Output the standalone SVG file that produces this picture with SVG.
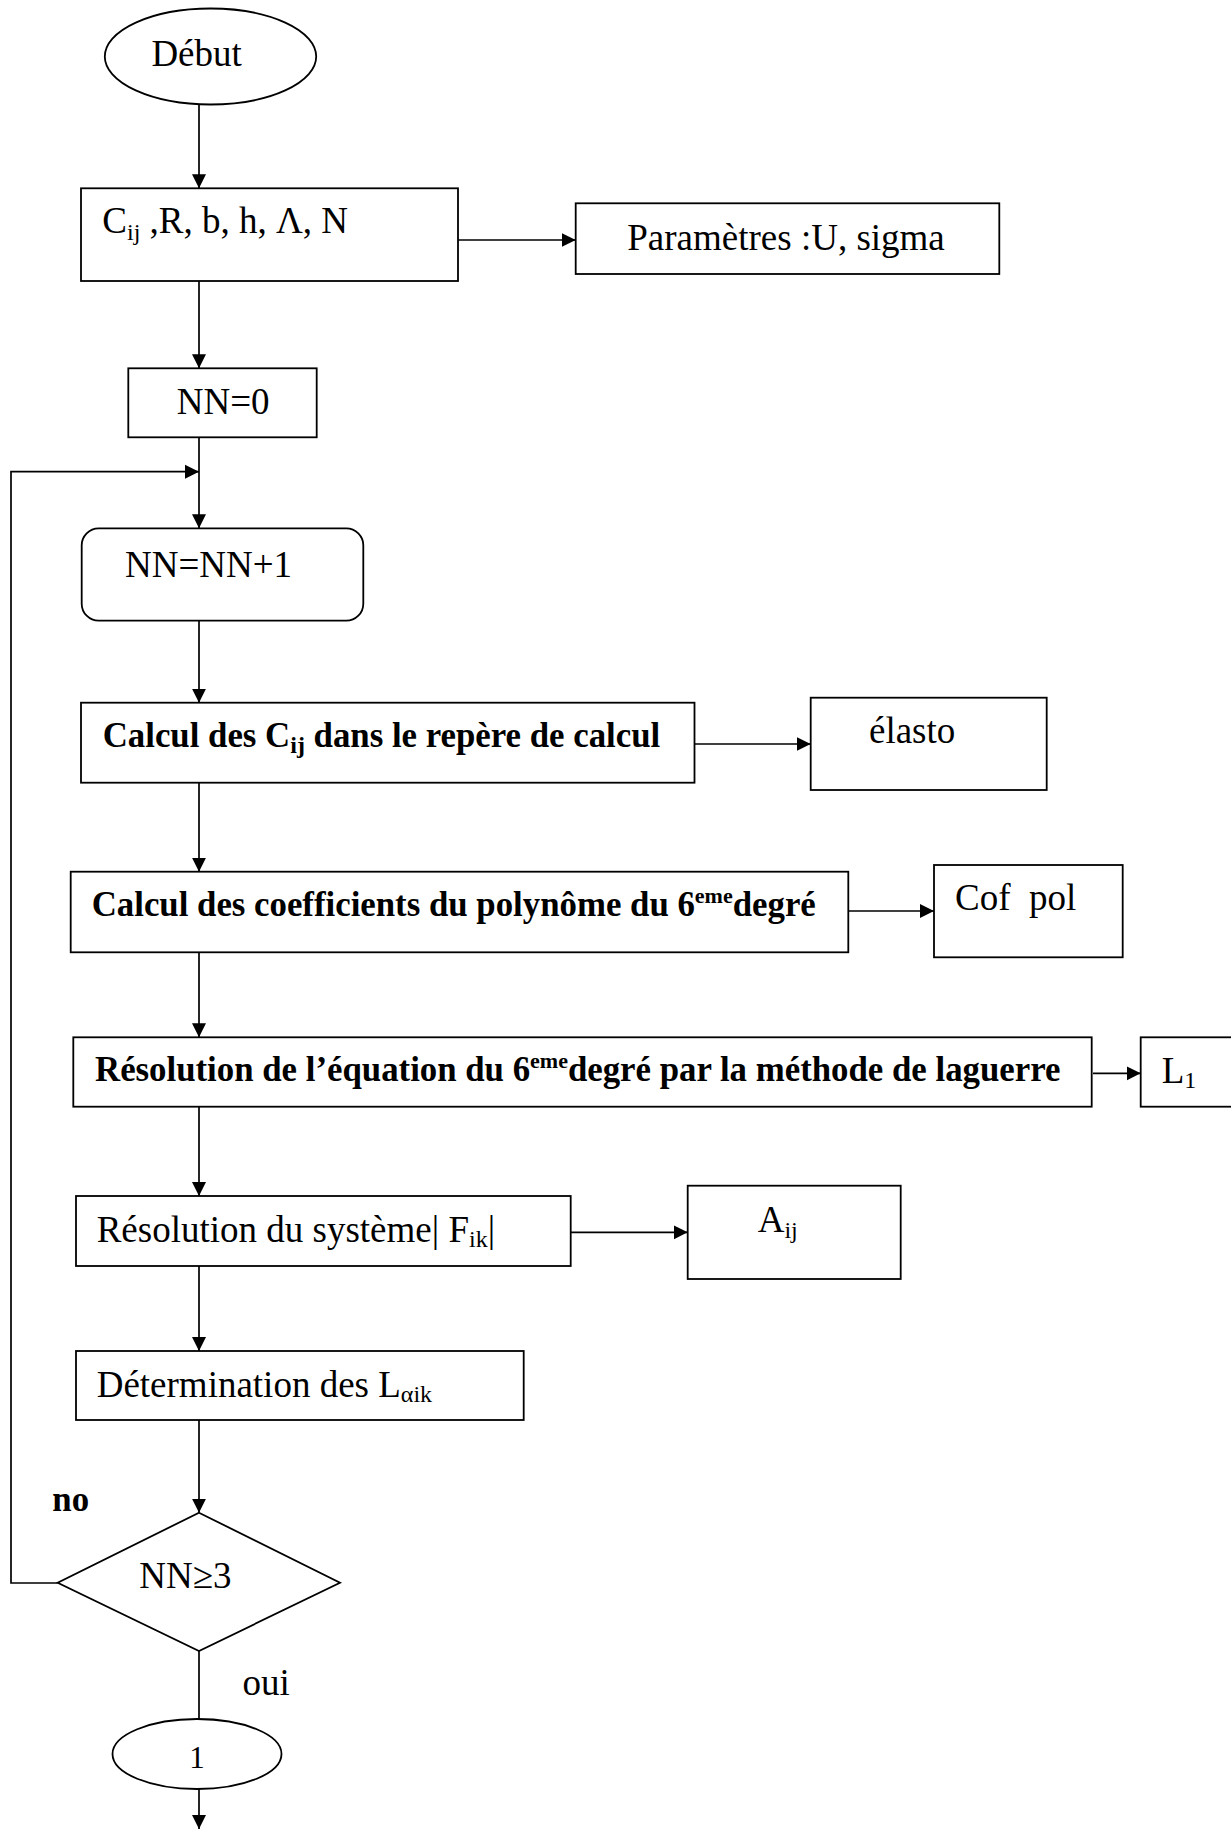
<svg xmlns="http://www.w3.org/2000/svg" width="1231" height="1829" viewBox="0 0 1231 1829">
<style>
  .box { fill: #fff; stroke: #000; stroke-width: 1.8; }
  .ln { fill: none; stroke: #000; stroke-width: 1.7; }
  .t { font-family: "Liberation Serif", "Times New Roman", serif; font-size: 37px; fill: #000; }
  .b { font-family: "Liberation Serif", "Times New Roman", serif; font-size: 34.8px; font-weight: bold; fill: #000; }
  .sub { font-size: 24px; }
  .sup { font-size: 22px; }
</style>
<defs>
  <marker id="arr" markerUnits="userSpaceOnUse" markerWidth="16" markerHeight="16" refX="14" refY="7.5" orient="auto">
    <path d="M0,0.5 L14,7.5 L0,14.5 z" fill="#000"/>
  </marker>
</defs>
<rect width="1231" height="1829" fill="#fff"/>

<g id="connectors">
  <line class="ln" x1="199" y1="104" x2="199" y2="188.3" marker-end="url(#arr)"/>
  <line class="ln" x1="458" y1="240" x2="575.7" y2="240" marker-end="url(#arr)"/>
  <line class="ln" x1="199" y1="281" x2="199" y2="368.3" marker-end="url(#arr)"/>
  <line class="ln" x1="199" y1="437.3" x2="199" y2="528.3" marker-end="url(#arr)"/>
  <polyline class="ln" points="57.7,1583 11,1583 11,471.7 199,471.7" marker-end="url(#arr)"/>
  <line class="ln" x1="199" y1="620.7" x2="199" y2="702.7" marker-end="url(#arr)"/>
  <line class="ln" x1="694.5" y1="744" x2="810.7" y2="744" marker-end="url(#arr)"/>
  <line class="ln" x1="199" y1="782.7" x2="199" y2="871.7" marker-end="url(#arr)"/>
  <line class="ln" x1="848.3" y1="911" x2="934" y2="911" marker-end="url(#arr)"/>
  <line class="ln" x1="199" y1="952.3" x2="199" y2="1037.3" marker-end="url(#arr)"/>
  <line class="ln" x1="1093" y1="1073.3" x2="1140.7" y2="1073.3" marker-end="url(#arr)"/>
  <line class="ln" x1="199" y1="1106.7" x2="199" y2="1196" marker-end="url(#arr)"/>
  <line class="ln" x1="567.5" y1="1232.3" x2="687.7" y2="1232.3" marker-end="url(#arr)"/>
  <line class="ln" x1="199" y1="1266" x2="199" y2="1351" marker-end="url(#arr)"/>
  <line class="ln" x1="199" y1="1420" x2="199" y2="1512.7" marker-end="url(#arr)"/>
  <line class="ln" x1="199" y1="1651" x2="199" y2="1719"/>
  <line class="ln" x1="199" y1="1789" x2="199" y2="1829" marker-end="url(#arr)"/>
</g>

<g id="debut">
  <ellipse class="box" cx="210.5" cy="56.5" rx="105.7" ry="48"/>
  <text class="t" x="151.4" y="66">Début</text>
</g>

<g id="input">
  <rect class="box" x="81" y="188.3" width="377" height="92.7"/>
  <text class="t" x="102.3" y="233.3">C<tspan class="sub" dy="6.5">ij</tspan><tspan dy="-6.5"> ,R, b, h, Λ, N</tspan></text>
</g>

<g id="parametres">
  <rect class="box" x="575.7" y="203.3" width="423.6" height="70.7"/>
  <text class="t" x="627.3" y="250">Paramètres :U, sigma</text>
</g>

<g id="nn0">
  <rect class="box" x="128.3" y="368.3" width="188.4" height="69"/>
  <text class="t" x="176.7" y="414.3">NN=0</text>
</g>

<g id="nn-incr">
  <rect class="box" x="81.7" y="528.3" width="281.6" height="92.4" rx="17" ry="17"/>
  <text class="t" x="125" y="576.7">NN=NN+1</text>
</g>

<g id="calcul-cij">
  <rect class="box" x="81" y="702.7" width="613.5" height="80"/>
  <text class="b" x="102.7" y="747.3">Calcul des C<tspan class="sub" dy="6">ij</tspan><tspan dy="-6"> dans le repère de calcul</tspan></text>
</g>

<g id="elasto">
  <rect class="box" x="810.7" y="697.7" width="236" height="92.3"/>
  <text class="t" x="869" y="742.7">élasto</text>
</g>

<g id="calcul-coef">
  <rect class="box" x="70.7" y="871.7" width="777.6" height="80.6"/>
  <text class="b" x="91.7" y="915.7">Calcul des coefficients du polynôme du 6<tspan class="sup" dy="-13">eme</tspan><tspan dy="13">degré</tspan></text>
</g>

<g id="cofpol">
  <rect class="box" x="934" y="865" width="188.7" height="92.3"/>
  <text class="t" x="955" y="910" xml:space="preserve" style="white-space:pre">Cof  pol</text>
</g>

<g id="resolution-eq">
  <rect class="box" x="73.3" y="1037.3" width="1018.4" height="69.4"/>
  <text class="b" x="95" y="1080.7">Résolution de l’équation du 6<tspan class="sup" dy="-13">eme</tspan><tspan dy="13">degré par la méthode de laguerre</tspan></text>
</g>

<g id="l1">
  <rect class="box" x="1140.7" y="1037.3" width="100" height="69.4"/>
  <text class="t" x="1161.7" y="1083.3">L<tspan class="sub" dy="5">1</tspan></text>
</g>

<g id="resolution-sys">
  <rect class="box" x="76" y="1196" width="494.7" height="70"/>
  <text class="t" x="96.7" y="1241.7">Résolution du système| F<tspan class="sub" dy="5">ik</tspan><tspan dy="-5">|</tspan></text>
</g>

<g id="aij">
  <rect class="box" x="687.7" y="1185.7" width="213" height="93.3"/>
  <text class="t" x="757.7" y="1231.7">A<tspan class="sub" dy="6">ij</tspan></text>
</g>

<g id="determination">
  <rect class="box" x="76" y="1351" width="447.7" height="69"/>
  <text class="t" x="96.7" y="1396.7">Détermination des L<tspan class="sub" dy="5">αik</tspan></text>
</g>

<g id="test">
  <polygon class="box" points="199,1512.7 340,1582.7 199,1651 57.7,1582.7"/>
  <text class="t" x="139.3" y="1588.3">NN≥3</text>
  <text class="b" x="52.3" y="1511">no</text>
  <text class="t" x="242.5" y="1695">oui</text>
</g>

<g id="connector-1">
  <ellipse class="box" cx="197" cy="1754" rx="84.5" ry="35"/>
  <text class="t" x="197" y="1768.3" text-anchor="middle" style="font-size:31px">1</text>
</g>
</svg>
